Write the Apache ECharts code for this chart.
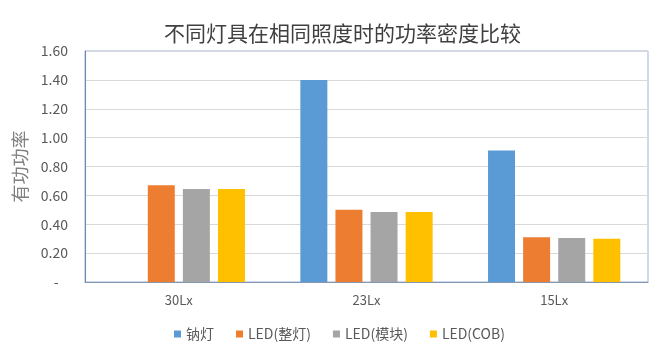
<!DOCTYPE html>
<html>
<head>
<meta charset="utf-8">
<script src="https://cdn.jsdelivr.net/npm/echarts@6/dist/echarts.min.js"></script>
<style>
  html, body { margin: 0; padding: 0; background: #fff; }
  #chart { width: 654px; height: 353px; }
</style>
</head>
<body>
<div id="chart"></div>
<script>
// 不同灯具在相同照度时的功率密度比较
const categories = ['30Lx', '23Lx', '15Lx'];
const sodiumLamp = [0, 1.40, 0.91];
const ledWhole = [0.67, 0.50, 0.31];
const ledModule = [0.645, 0.485, 0.305];
const ledCob = [0.645, 0.485, 0.30];
const yTickLabels = ['-   ', '0.20', '0.40', '0.60', '0.80', '1.00', '1.20', '1.40', '1.60'];

const seriesDefs = [
  { name: '钠灯', data: sodiumLamp, color: '#5B9BD5' },
  { name: 'LED(整灯)', data: ledWhole, color: '#ED7D31' },
  { name: 'LED(模块)', data: ledModule, color: '#A5A5A5' },
  { name: 'LED(COB)', data: ledCob, color: '#FFC000' }
];

const fontFamily = '"Noto Sans CJK SC", "Liberation Sans", sans-serif';

const chart = echarts.init(document.getElementById('chart'));
chart.setOption({
  animation: false,
  textStyle: { fontFamily },
  title: {
    text: '不同灯具在相同照度时的功率密度比较',
    left: 159,
    top: 18,
    textStyle: { fontSize: 21, fontWeight: 'normal', color: '#404040', fontFamily }
  },
  legend: {
    bottom: 7,
    left: 169,
    itemWidth: 7,
    itemHeight: 7,
    itemGap: 22,
    icon: 'rect',
    textStyle: { fontSize: 14, color: '#595959', fontFamily },
    data: seriesDefs.map((s) => s.name)
  },
  grid: {
    left: 85,
    right: 6,
    top: 51,
    bottom: 71,
    show: true,
    borderColor: '#9DB5D8',
    borderWidth: 1
  },
  xAxis: {
    type: 'category',
    data: categories,
    axisTick: { show: false },
    axisLine: { lineStyle: { color: '#8497B0', width: 1 } },
    axisLabel: { fontSize: 13, color: '#595959', margin: 12 }
  },
  yAxis: {
    type: 'value',
    min: 0,
    max: 1.6,
    interval: 0.2,
    name: '有功功率',
    nameLocation: 'middle',
    nameGap: 56,
    nameTextStyle: { fontSize: 18, color: '#808080' },
    axisLine: { show: true, lineStyle: { color: '#6F86AE' } },
    axisTick: { show: false },
    axisLabel: {
      fontSize: 14,
      color: '#595959',
      margin: 17,
      formatter: (v) => yTickLabels[Math.round(v / 0.2)]
    },
    splitLine: { lineStyle: { color: '#D9D9D9' } }
  },
  series: seriesDefs.map((s) => ({
    name: s.name,
    type: 'bar',
    data: s.data,
    barWidth: 27,
    barGap: '30%',
    itemStyle: { color: s.color }
  }))
});
</script>
</body>
</html>
